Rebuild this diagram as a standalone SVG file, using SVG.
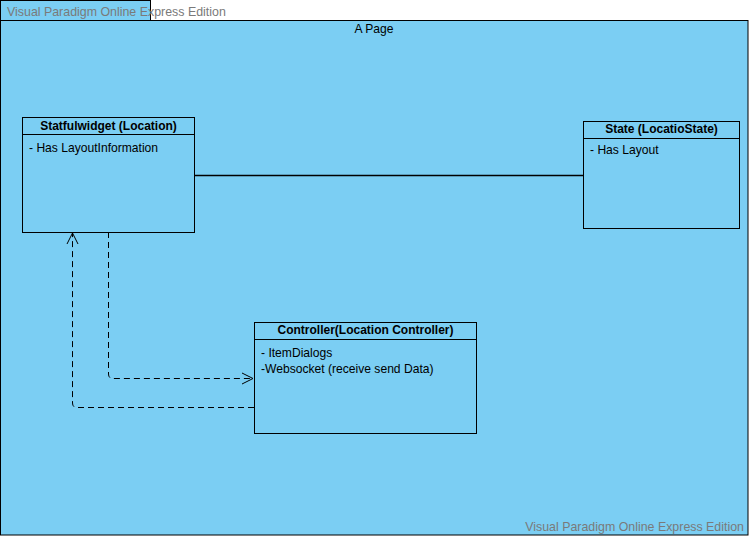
<svg xmlns="http://www.w3.org/2000/svg" width="749" height="536" viewBox="0 0 749 536">
<style>
.frame{fill:#7BCEF3;stroke:#000;stroke-width:1}
.cls{fill:#7BCEF3;stroke:#000;stroke-width:1}
.title{font-family:"Liberation Sans",Arial,sans-serif;font-size:12px;font-weight:bold;fill:#000;text-anchor:middle}
.attr{font-family:"Liberation Sans",Arial,sans-serif;font-size:12.1px;fill:#000}
.wm{font-family:"Liberation Sans",Arial,sans-serif;font-size:12.4px;fill:#7a7a7a}
.dash{fill:none;stroke:#000;stroke-width:1;stroke-dasharray:6 4}
.arrow{fill:none;stroke:#000;stroke-width:1}
</style>
<rect x="0" y="0" width="749" height="536" fill="#fff"/>
<g id="page">
<rect class="frame" x="0.5" y="0.5" width="150" height="20"/>
<rect class="frame" x="0.5" y="20.5" width="747.5" height="514.5"/>
<text x="374" y="33" class="attr" text-anchor="middle">A Page</text>
</g>
<g id="connectors">
<line x1="194" y1="175.5" x2="583" y2="175.5" stroke="#000" stroke-width="1.5"/>
<path class="dash" d="M108.5,232 V374 Q108.5,378.5 113,378.5 H253"/>
<path class="arrow" d="M242,373 L253,378.5 L242,384"/>
<path class="dash" d="M254,407.5 H77 Q72.5,407.5 72.5,403 V233"/>
<path class="arrow" d="M67,244 L72.5,233 L78,244"/>
</g>
<g id="statfulwidget">
<rect class="cls" x="22.5" y="117.5" width="172" height="115"/>
<line x1="22.5" y1="134.5" x2="194.5" y2="134.5" stroke="#000"/>
<text class="title" x="108.5" y="130">Statfulwidget (Location)</text>
<text class="attr" x="29" y="152">- Has LayoutInformation</text>
</g>
<g id="state">
<rect class="cls" x="583.5" y="121.5" width="156" height="107"/>
<line x1="583.5" y1="138.5" x2="739.5" y2="138.5" stroke="#000"/>
<text class="title" x="661.5" y="133">State (LocatioState)</text>
<text class="attr" x="590" y="154">- Has Layout</text>
</g>
<g id="controller">
<rect class="cls" x="254.5" y="322.5" width="222" height="111"/>
<line x1="254.5" y1="339.5" x2="476.5" y2="339.5" stroke="#000"/>
<text class="title" x="365.5" y="334">Controller(Location Controller)</text>
<text class="attr" x="261" y="357">- ItemDialogs</text>
<text class="attr" x="261" y="373">-Websocket (receive send Data)</text>
</g>
<text class="wm" x="7" y="16">Visual Paradigm Online Express Edition</text>
<text class="wm" x="744" y="531" text-anchor="end">Visual Paradigm Online Express Edition</text>
</svg>
